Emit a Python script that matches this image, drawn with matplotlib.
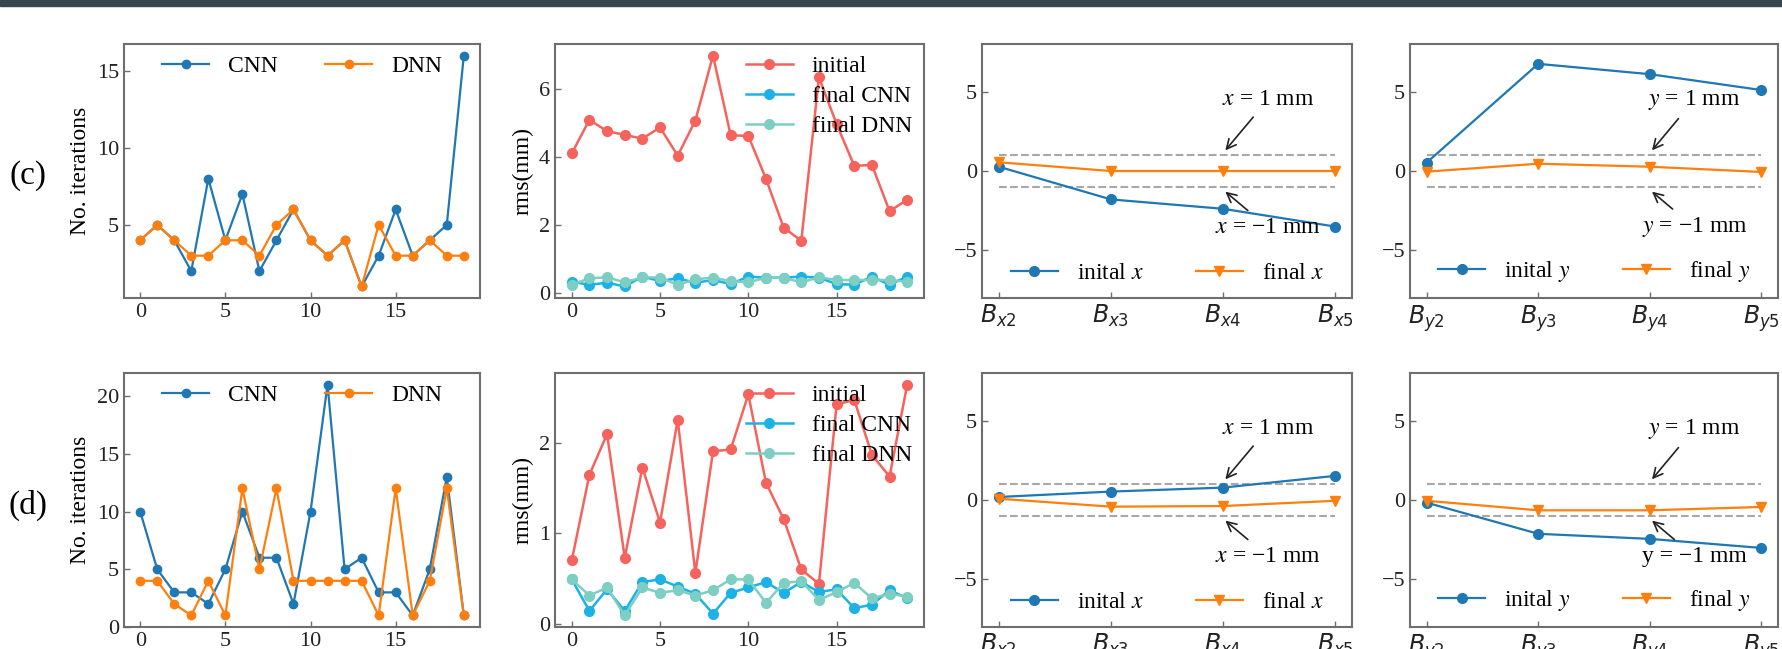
import matplotlib
matplotlib.use("Agg")
import matplotlib.pyplot as plt
from matplotlib.patches import Rectangle
import numpy as np

plt.rcParams['font.family'] = ['Liberation Serif', 'DejaVu Serif']
plt.rcParams['mathtext.fontset'] = 'stix'

# ---- data ----
runs = np.arange(20)
bx_labels = [r'$B_{x2}$', r'$B_{x3}$', r'$B_{x4}$', r'$B_{x5}$']
by_labels = [r'$B_{y2}$', r'$B_{y3}$', r'$B_{y4}$', r'$B_{y5}$']
tol = [1, -1]

# row (c)
c_iter_cnn = [4, 5, 4, 2, 8, 4, 7, 2, 4, 6, 4, 3, 4, 1, 3, 6, 3, 4, 5, 16]
c_iter_dnn = [4, 5, 4, 3, 3, 4, 4, 3, 5, 6, 4, 3, 4, 1, 5, 3, 3, 4, 3, 3]
c_rms_init = [4.11, 5.09, 4.76, 4.65, 4.54, 4.87, 4.04, 5.07, 6.98, 4.64,
              4.62, 3.36, 1.93, 1.54, 6.34, 4.97, 3.74, 3.77, 2.41, 2.75]
c_rms_cnn = [0.34, 0.25, 0.31, 0.20, 0.49, 0.36, 0.44, 0.31, 0.39, 0.27,
             0.49, 0.46, 0.46, 0.49, 0.46, 0.27, 0.25, 0.49, 0.25, 0.49]
c_rms_dnn = [0.25, 0.44, 0.47, 0.32, 0.47, 0.46, 0.25, 0.41, 0.46, 0.36,
             0.32, 0.46, 0.46, 0.32, 0.47, 0.39, 0.39, 0.39, 0.39, 0.34]
c_x_init = [0.27, -1.79, -2.38, -3.50]
c_x_final = [0.55, 0.0, 0.0, 0.0]
c_y_init = [0.53, 6.75, 6.10, 5.10]
c_y_final = [-0.04, 0.46, 0.27, -0.06]

# row (d)
d_iter_cnn = [10, 5, 3, 3, 2, 5, 10, 6, 6, 2, 10, 21, 5, 6, 3, 3, 1, 5, 13, 1]
d_iter_dnn = [4, 4, 2, 1, 4, 1, 12, 5, 12, 4, 4, 4, 4, 4, 1, 12, 1, 4, 12, 1]
d_rms_init = [0.70, 1.65, 2.10, 0.73, 1.73, 1.12, 2.26, 0.56, 1.91, 1.93,
              2.54, 1.56, 1.16, 0.60, 0.44, 2.43, 2.48, 1.87, 1.63, 2.65]
d_rms_cnn = [0.49, 0.14, 0.38, 0.14, 0.46, 0.49, 0.41, 0.33, 0.11, 0.34,
             0.40, 0.46, 0.34, 0.46, 0.35, 0.38, 0.17, 0.21, 0.37, 0.28]
d_rms_dnn = [0.49, 0.31, 0.40, 0.09, 0.40, 0.34, 0.37, 0.31, 0.37, 0.49,
             0.49, 0.23, 0.45, 0.47, 0.26, 0.35, 0.45, 0.28, 0.33, 0.30]
d_x_init = [0.19, 0.53, 0.78, 1.52]
d_x_final = [0.08, -0.42, -0.38, -0.05]
d_y_init = [-0.17, -2.13, -2.45, -3.02]
d_y_final = [-0.05, -0.65, -0.65, -0.44]

BLUE = '#1f77b4'
ORANGE = '#ff7f0e'
RED = '#f5635c'
CYAN = '#1cb2e6'
TEAL = '#7ccfc2'
SPINE = '#6e6e6e'
LAB = 17
TICK = 16

fig = plt.figure(figsize=(17.83, 6.49), dpi=100)
fig.patches.append(Rectangle((0, 1 - 6 / 649), 1, 6 / 649, transform=fig.transFigure,
                             color='#37474f', zorder=10))

cols = [(0.06955, 0.19966), (0.31127, 0.20696), (0.55076, 0.20752), (0.79080, 0.20639)]
rows = [(0.5408, 0.3914), (0.0339, 0.3914)]


def style(ax):
    for s in ax.spines.values():
        s.set_color(SPINE)
        s.set_linewidth(1.5)
    ax.tick_params(direction='in', length=4, width=1, colors=SPINE,
                   labelcolor='#222222', labelsize=TICK)


def iter_panel(ax, cnn, dnn, tag):
    ax.plot(runs, cnn, '-o', color=BLUE, lw=1.6, ms=6, label='CNN')
    ax.plot(runs, dnn, '-o', color=ORANGE, lw=1.6, ms=6, label='DNN')
    ax.set_ylabel('No. iterations', fontsize=LAB)
    ax.set_xticks([0, 5, 10, 15])
    ax.legend(loc='upper center', ncol=2, frameon=False, fontsize=LAB,
              borderaxespad=0.1)
    ax.text(-0.27, 0.48, tag, transform=ax.transAxes, fontsize=24,
            ha='center', va='center')
    style(ax)


def rms_panel(ax, init, cnn, dnn, yt):
    ax.plot(runs, init, '-o', color=RED, lw=1.8, ms=7, label='initial')
    ax.plot(runs, cnn, '-o', color=CYAN, lw=1.8, ms=7, label='final CNN')
    ax.plot(runs, dnn, '-o', color=TEAL, lw=1.8, ms=7, label='final DNN')
    ax.set_ylabel('rms(mm)', fontsize=LAB)
    ax.set_xticks([0, 5, 10, 15])
    ax.set_yticks(yt)
    ax.legend(loc='upper right', frameon=False, fontsize=LAB, borderaxespad=0.1,
              labelspacing=0.35)
    style(ax)


def offset_panel(ax, labels, init, final, v, lower_italic=True):
    pos = np.arange(len(labels))
    ax.hlines(tol, pos[0], pos[-1], colors='#a8a8a8', linestyles='--', lw=1.5)
    ax.plot(pos, init, '-o', color=BLUE, lw=1.6, ms=7, label='inital $%s$' % v)
    ax.plot(pos, final, '-v', color=ORANGE, lw=1.6, ms=7, label='final $%s$' % v)
    ax.set_ylim(-8, 8)
    ax.set_yticks([-5, 0, 5])
    ax.set_xticks(pos)
    ax.set_xticklabels(labels)
    style(ax)
    for t in ax.get_xticklabels():
        t.set_math_fontfamily('dejavusans')
        t.set_fontsize(17)
    up = '$%s$ = 1 mm' % v
    lo = ('$%s$ = \u22121 mm' % v) if lower_italic else ('%s = \u22121 mm' % v)
    ax.annotate(up, xy=(2.02, 1.3), xytext=(2.4, 4.5), fontsize=LAB,
                ha='center', va='center',
                arrowprops=dict(arrowstyle='->', color='#222222', lw=1.2, shrinkA=4, shrinkB=0))
    ax.annotate(lo, xy=(2.02, -1.3), xytext=(2.4, -3.55), fontsize=LAB,
                ha='center', va='center',
                arrowprops=dict(arrowstyle='->', color='#222222', lw=1.2, shrinkA=4, shrinkB=0))
    ax.legend(loc='lower center', ncol=2, frameon=False, fontsize=LAB,
              borderaxespad=0.2, columnspacing=2.2)


axes = [[fig.add_axes([c[0], r[0], c[1], r[1]]) for c in cols] for r in rows]

iter_panel(axes[0][0], c_iter_cnn, c_iter_dnn, '(c)')
rms_panel(axes[0][1], c_rms_init, c_rms_cnn, c_rms_dnn, [0, 2, 4, 6])
offset_panel(axes[0][2], bx_labels, c_x_init, c_x_final, 'x')
offset_panel(axes[0][3], by_labels, c_y_init, c_y_final, 'y')

iter_panel(axes[1][0], d_iter_cnn, d_iter_dnn, '(d)')
rms_panel(axes[1][1], d_rms_init, d_rms_cnn, d_rms_dnn, [0, 1, 2])
offset_panel(axes[1][2], bx_labels, d_x_init, d_x_final, 'x')
offset_panel(axes[1][3], by_labels, d_y_init, d_y_final, 'y', lower_italic=False)

fig.savefig('out.png', dpi=100)
